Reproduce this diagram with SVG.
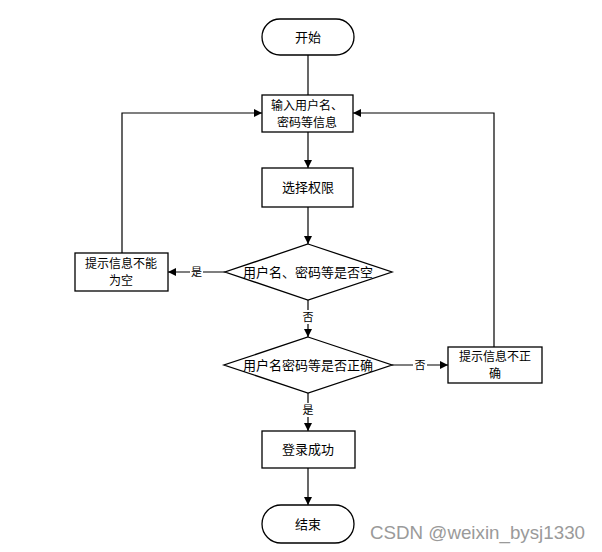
<svg xmlns="http://www.w3.org/2000/svg" width="602" height="552" viewBox="0 0 602 552">
<defs>
<marker id="ah" viewBox="0 0 10 10" refX="10" refY="5" markerWidth="8" markerHeight="8" markerUnits="userSpaceOnUse" orient="auto">
<path d="M0,0 L10,5 L0,10 z" fill="#000"/>
</marker>
</defs>
<style>
.shape{fill:#fff;stroke:#000;stroke-width:1.3}
.t{font-family:"Noto Sans CJK SC","Noto Sans",sans-serif;font-size:13px;fill:#000;text-anchor:middle}
.t2{font-family:"Noto Sans CJK SC","Noto Sans",sans-serif;font-size:12px;fill:#000;text-anchor:middle}
.lbl{font-family:"Noto Sans CJK SC","Noto Sans",sans-serif;font-size:11px;fill:#000;text-anchor:middle}
.c{fill:none;stroke:#000;stroke-width:1.2}
.bg{fill:#fff}
</style>
<rect width="602" height="552" fill="#fff"/>
<g id="connectors">
<path class="c" d="M308,55 V95"/>
<path class="c" d="M308,132 V168" marker-end="url(#ah)"/>
<path class="c" d="M308,207 V244" marker-end="url(#ah)"/>
<path class="c" d="M225,272 H168" marker-end="url(#ah)"/>
<path class="c" d="M122,253 V113 H262" marker-end="url(#ah)"/>
<path class="c" d="M308,300 V337" marker-end="url(#ah)"/>
<path class="c" d="M392,365 H448" marker-end="url(#ah)"/>
<path class="c" d="M494,347 V113 H353" marker-end="url(#ah)"/>
<path class="c" d="M308,393 V431" marker-end="url(#ah)"/>
<path class="c" d="M308,468 V505" marker-end="url(#ah)"/>
<rect class="bg" x="190" y="265" width="13" height="14"/>
<text class="lbl" x="196.5" y="276">是</text>
<rect class="bg" x="302" y="310" width="13" height="14"/>
<text class="lbl" x="308" y="321">否</text>
<rect class="bg" x="413" y="358" width="14" height="14"/>
<text class="lbl" x="420" y="369">否</text>
<rect class="bg" x="302" y="403" width="13" height="14"/>
<text class="lbl" x="308" y="414">是</text>
</g>
<g id="start">
<rect class="shape" x="262" y="19" width="92" height="36" rx="18"/>
<text class="t" x="308" y="42">开始</text>
</g>
<g id="input">
<rect class="shape" x="262" y="95" width="91" height="37"/>
<text class="t2" x="307" y="110">输入用户名、</text>
<text class="t2" x="307" y="127">密码等信息</text>
</g>
<g id="permission">
<rect class="shape" x="262" y="168" width="91" height="39"/>
<text class="t" x="308" y="192">选择权限</text>
</g>
<g id="check-empty">
<polygon class="shape" points="308,244 392,272 308,300 225,272"/>
<text class="t" x="308" y="277">用户名、密码等是否空</text>
</g>
<g id="empty-msg">
<rect class="shape" x="75" y="253" width="93" height="38"/>
<text class="t2" x="121" y="268">提示信息不能</text>
<text class="t2" x="121" y="285">为空</text>
</g>
<g id="check-correct">
<polygon class="shape" points="308,337 392,365 308,393 224,365"/>
<text class="t" x="308" y="370">用户名密码等是否正确</text>
</g>
<g id="wrong-msg">
<rect class="shape" x="448" y="347" width="94" height="36"/>
<text class="t2" x="495" y="361">提示信息不正</text>
<text class="t2" x="495" y="378">确</text>
</g>
<g id="success">
<rect class="shape" x="262" y="431" width="93" height="37"/>
<text class="t" x="308" y="454">登录成功</text>
</g>
<g id="end">
<rect class="shape" x="262" y="505" width="92" height="38" rx="19"/>
<text class="t" x="308" y="529">结束</text>
</g>
<text x="370" y="539" font-family="Liberation Sans, Arial, sans-serif" font-size="19" fill="#9a9a9a" textLength="215" lengthAdjust="spacingAndGlyphs">CSDN @weixin_bysj1330</text>
</svg>
